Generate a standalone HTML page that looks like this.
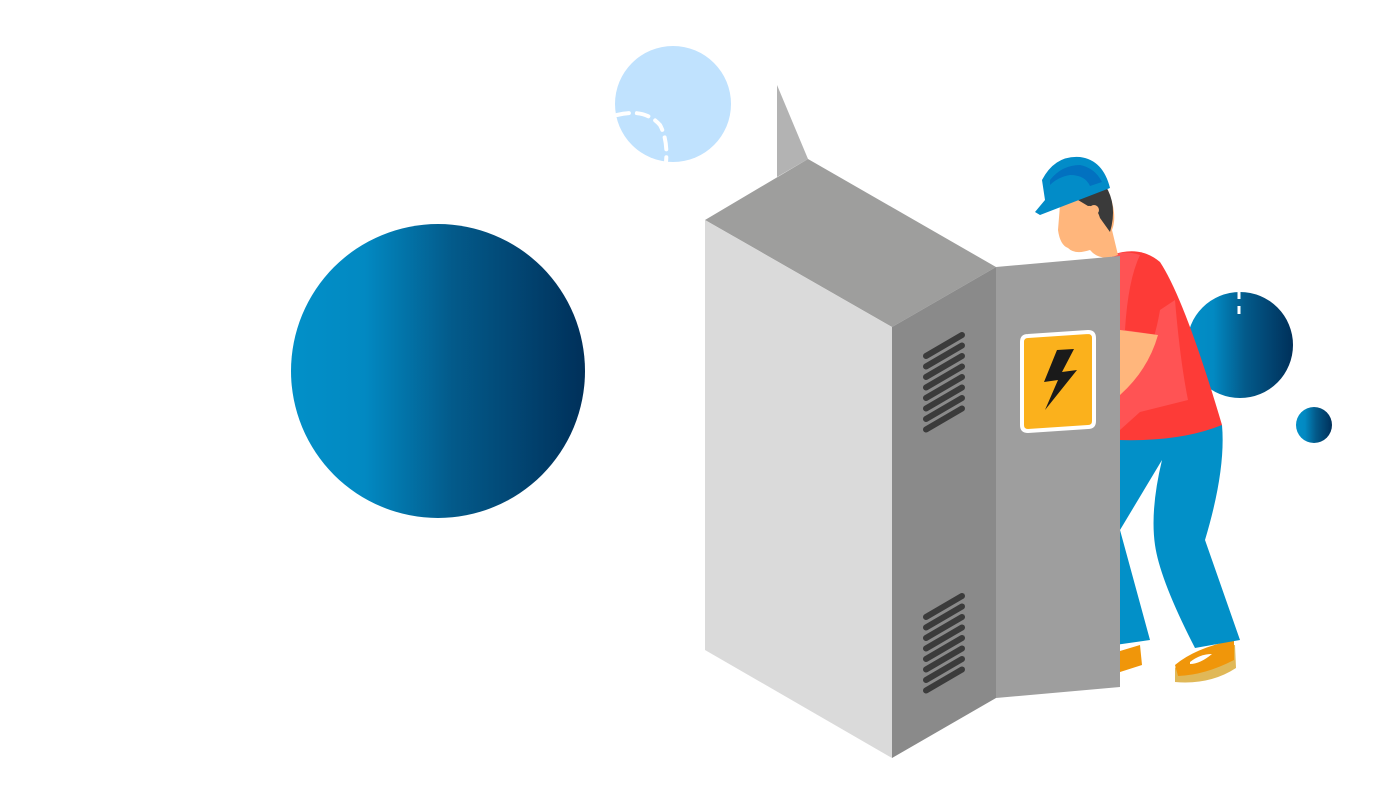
<!DOCTYPE html>
<html><head><meta charset="utf-8"><style>html,body{margin:0;padding:0;background:#fff}svg{display:block}</style></head>
<body>
<svg width="1400" height="800" viewBox="0 0 1400 800" xmlns="http://www.w3.org/2000/svg">
<defs>
<linearGradient id="g" x1="0" x2="1" y1="0" y2="0">
<stop offset="0" stop-color="#0290c8"/><stop offset="0.25" stop-color="#0289c2"/><stop offset="0.55" stop-color="#035a8a"/><stop offset="1" stop-color="#00305a"/>
</linearGradient>
</defs>
<circle cx="438" cy="371" r="147" fill="url(#g)"/>
<circle cx="673" cy="104" r="58" fill="#c0e2fe"/>
<path d="M617 115 Q645 108 660 125 Q668 140 666 162" fill="none" stroke="#fff" stroke-width="4" stroke-dasharray="12 8" stroke-linecap="round"/>
<circle cx="1240" cy="345" r="53" fill="url(#g)"/>
<line x1="1239" y1="291" x2="1239" y2="320" stroke="#fff" stroke-width="3" stroke-dasharray="8 7"/>
<circle cx="1314" cy="425" r="18" fill="url(#g)"/>
<!-- worker -->
<path d="M1090 660 L1140 645 L1142 665 L1095 680Z" fill="#f0960a"/>
<path d="M1175 668 Q1190 650 1235 645 L1236 668 Q1210 685 1175 682Z" fill="#e0b858"/>
<path d="M1175 665 Q1195 648 1234 640 L1234 660 Q1205 675 1178 676Z" fill="#f0960a"/>
<path d="M1190 662 Q1200 654 1212 654 Q1200 664 1190 664Z" fill="#fff"/>
<path d="M1115 440 L1222 425 Q1226 470 1205 540 L1240 640 L1195 648 Q1160 580 1155 545 Q1150 510 1162 460 L1120 530 L1150 640 L1115 645 Z" fill="#0290c8"/>
<path d="M1112 255 Q1140 245 1160 262 Q1185 300 1222 425 Q1180 442 1118 440 Z" fill="#fd3b37"/>
<path d="M1112 255 Q1125 250 1140 255 Q1128 280 1125 330 L1158 335 Q1150 380 1118 410 Z" fill="#ff5354"/>
<path d="M1175 300 Q1180 360 1188 400 L1140 412 L1120 430 L1118 395 Q1150 370 1160 310Z" fill="#ff5354"/>
<path d="M1120 330 L1158 335 Q1148 370 1120 395Z" fill="#ffb67c"/>
<path d="M1060 205 L1108 190 Q1118 215 1112 230 L1118 255 Q1100 262 1090 250 Q1075 255 1068 248 Q1060 245 1058 230 Z" fill="#ffb67c"/>
<path d="M1065 200 L1105 185 Q1118 205 1110 232 L1100 218 Q1096 205 1088 206 L1078 200Z" fill="#3a3a3a"/>
<circle cx="1094" cy="210" r="5" fill="#ffb67c"/>
<path d="M1042 180 Q1055 155 1080 157 Q1103 160 1110 188 L1040 215 L1035 212 L1045 200 Z" fill="#028cc8"/>
<path d="M1050 180 Q1062 165 1080 165 Q1095 168 1102 182 L1090 186 Q1085 175 1070 175 Q1058 177 1050 185Z" fill="#0271c0"/>
<!-- cabinet -->
<polygon points="777,85 808,159 777,177" fill="#b3b3b3"/>
<polygon points="705,220 808,159 996,267 892,327" fill="#9e9e9d"/>
<polygon points="705,220 892,327 892,758 705,650" fill="#dadada"/>
<polygon points="892,327 996,267 996,698 892,758" fill="#8a8a8a"/>
<polygon points="996,267 1120,256 1120,687 996,698" fill="#9e9e9e"/>
<g stroke="#3b3b3b" stroke-width="6" stroke-linecap="round">
<line x1="926" y1="356" x2="962" y2="335"/><line x1="926" y1="366.5" x2="962" y2="345.5"/><line x1="926" y1="377" x2="962" y2="356"/><line x1="926" y1="387.5" x2="962" y2="366.5"/><line x1="926" y1="398" x2="962" y2="377"/><line x1="926" y1="408.5" x2="962" y2="387.5"/><line x1="926" y1="419" x2="962" y2="398"/><line x1="926" y1="429.5" x2="962" y2="408.5"/>
<line x1="926" y1="617" x2="962" y2="596"/><line x1="926" y1="627.5" x2="962" y2="606.5"/><line x1="926" y1="638" x2="962" y2="617"/><line x1="926" y1="648.5" x2="962" y2="627.5"/><line x1="926" y1="659" x2="962" y2="638"/><line x1="926" y1="669.5" x2="962" y2="648.5"/><line x1="926" y1="680" x2="962" y2="659"/><line x1="926" y1="690.5" x2="962" y2="669.5"/>
</g>
<path d="M1028 336 L1088 332 Q1094 332 1094 338 L1094 421 Q1094 427 1088 427 L1028 431 Q1022 431 1022 425 L1022 342 Q1022 336 1028 336Z" fill="#fbb11c" stroke="#fff" stroke-width="4"/>
<polygon points="1057,338 1074,337 1062,360 1077,358 1045,398 1058,368 1044,370" fill="#1a1a1a" transform="translate(0,12)"/>
</svg>
</body></html>
